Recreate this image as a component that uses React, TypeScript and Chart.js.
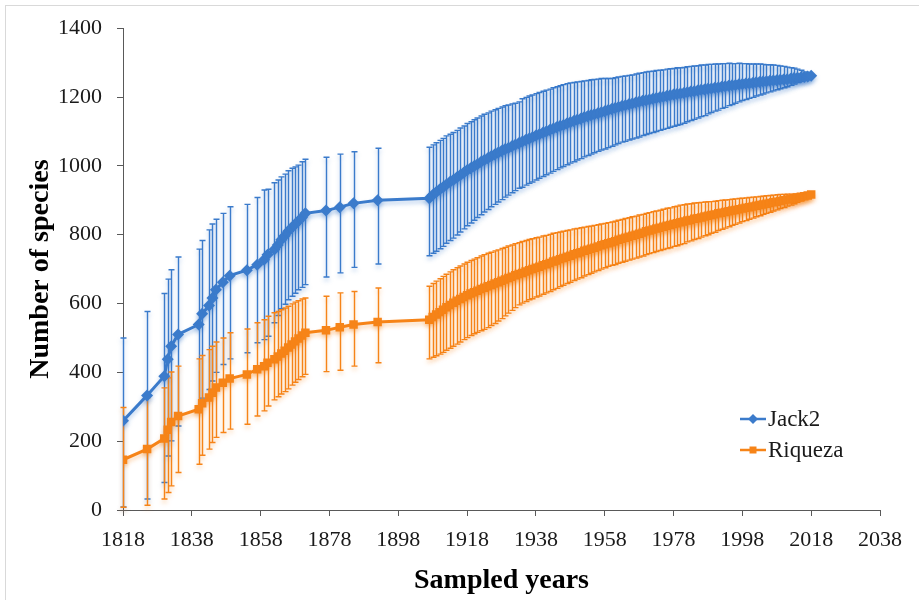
import React, { useEffect, useRef } from "react";
import { Chart, registerables } from "chart.js";

Chart.register(...registerables);

// ---------- DATA ----------
const years = [
  1818, 1825, 1830, 1831, 1832, 1834, 1840, 1841, 1843, 1844, 1845, 1847, 1849, 1854, 1857, 1859,
  1860, 1862, 1863, 1864, 1865, 1866, 1867, 1868, 1869, 1870, 1871, 1877, 1881, 1885, 1892,
  1907, 1908, 1909, 1910, 1911, 1912, 1913, 1914, 1915, 1916,
  1917, 1918, 1919, 1920, 1921, 1922, 1923, 1924, 1925, 1926,
  1927, 1928, 1929, 1930, 1931, 1932, 1933, 1934, 1935, 1936,
  1937, 1938, 1939, 1940, 1941, 1942, 1943, 1944, 1945, 1946,
  1947, 1948, 1949, 1950, 1951, 1952, 1953, 1954, 1955, 1956,
  1957, 1958, 1959, 1960, 1961, 1962, 1963, 1964, 1965, 1966,
  1967, 1968, 1969, 1970, 1971, 1972, 1973, 1974, 1975, 1976,
  1977, 1978, 1979, 1980, 1981, 1982, 1983, 1984, 1985, 1986,
  1987, 1988, 1989, 1990, 1991, 1992, 1993, 1994, 1995, 1996,
  1997, 1998, 1999, 2000, 2001, 2002, 2003, 2004, 2005, 2006,
  2007, 2008, 2009, 2010, 2011, 2012, 2013, 2014, 2015, 2016,
  2017, 2018,
];

const jack2 = [
  259, 333, 389, 438, 476, 510, 539, 570, 594, 616, 640, 662, 681, 697, 713, 727,
  742, 757, 770, 785, 797, 810, 820, 830, 840, 850, 862, 870, 880, 891, 900,
  906, 915, 923, 931, 938, 946, 953, 959, 966, 973,
  980, 987, 993, 999, 1005, 1011, 1017, 1022, 1028, 1033,
  1038, 1043, 1048, 1052, 1057, 1061, 1066, 1070, 1075, 1079,
  1083, 1088, 1092, 1096, 1100, 1104, 1108, 1112, 1116, 1119,
  1123, 1127, 1130, 1134, 1137, 1141, 1144, 1147, 1150, 1153,
  1156, 1159, 1162, 1165, 1168, 1171, 1174, 1176, 1179, 1181,
  1184, 1186, 1189, 1191, 1193, 1195, 1197, 1199, 1201, 1203,
  1205, 1207, 1209, 1210, 1212, 1214, 1216, 1217, 1219, 1221,
  1222, 1224, 1225, 1227, 1228, 1230, 1231, 1233, 1234, 1235,
  1237, 1238, 1239, 1240, 1241, 1243, 1244, 1245, 1246, 1247,
  1248, 1249, 1250, 1251, 1252, 1253, 1255, 1256, 1257, 1258,
  1260, 1262,
];

const jack2ErrPlus = [
  241, 244, 240, 233, 222, 225, 219, 213, 220, 215, 205, 200, 200, 191, 195, 203,
  190, 194, 189, 183, 179, 176, 173, 167, 162, 162, 157, 155, 154, 150, 151,
  148, 146, 144, 143, 142, 141, 139, 138, 137, 137,
  136, 136, 135, 135, 134, 134, 133, 132, 131, 130,
  129, 128, 127, 125, 123, 121, 120, 125, 124, 124,
  123, 122, 121, 121, 120, 119, 119, 118, 117, 117,
  116, 114, 112, 110, 108, 106, 104, 103, 101, 99,
  98, 95, 92, 89, 88, 87, 86, 85, 84, 83,
  83, 83, 82, 82, 81, 80, 80, 79, 78, 78,
  77, 76, 76, 75, 74, 74, 73, 73, 72, 72,
  71, 71, 70, 69, 68, 67, 66, 65, 63, 62,
  61, 59, 58, 56, 55, 53, 52, 50, 48, 47,
  45, 43, 40, 38, 35, 32, 29, 25, 21, 15,
  9, 0,
];

const jack2ErrMinus = [
  250, 301, 309, 281, 275, 266, 250, 245, 244, 241, 240, 239, 242, 240, 227, 232,
  237, 213, 205, 200, 199, 199, 199, 200, 200, 203, 207, 193, 191, 186, 185,
  167, 169, 171, 172, 172, 171, 170, 169, 167, 165,
  163, 161, 159, 157, 155, 153, 151, 149, 147, 145,
  143, 141, 139, 137, 135, 133, 131, 132, 131, 130,
  130, 129, 128, 127, 126, 125, 124, 123, 122, 121,
  120, 119, 118, 117, 116, 115, 114, 113, 112, 111,
  110, 110, 109, 108, 107, 106, 105, 105, 104, 103,
  103, 102, 101, 100, 99, 98, 97, 96, 95, 94,
  93, 92, 91, 90, 88, 86, 84, 82, 80, 78,
  76, 73, 70, 68, 66, 63, 61, 58, 56, 53,
  51, 48, 46, 44, 42, 40, 38, 36, 34, 32,
  30, 28, 26, 24, 22, 19, 17, 14, 11, 8,
  5, 0,
];

const riqueza = [
  146, 177, 208, 233, 256, 273, 293, 310, 327, 341, 356, 370, 382, 394, 409, 418,
  428, 438, 446, 455, 463, 472, 481, 490, 498, 507, 515, 522, 531, 539, 546,
  553, 561, 568, 575, 582, 589, 596, 602, 608, 613,
  619, 624, 629, 633, 637, 642, 646, 650, 654, 658,
  662, 666, 670, 674, 678, 682, 686, 689, 693, 697,
  700, 704, 707, 711, 714, 718, 722, 725, 729, 732,
  736, 739, 743, 746, 749, 753, 756, 759, 762, 766,
  769, 772, 775, 778, 781, 785, 788, 791, 794, 797,
  800, 803, 806, 810, 812, 815, 818, 820, 823, 826,
  828, 831, 833, 836, 838, 841, 843, 846, 848, 850,
  853, 855, 857, 859, 862, 864, 866, 868, 870, 872,
  874, 876, 878, 880, 882, 884, 886, 888, 890, 892,
  894, 896, 898, 900, 902, 904, 906, 908, 910, 912,
  914, 917,
];

const riquezaErrPlus = [
  152, 149, 147, 151, 145, 145, 146, 139, 139, 135, 132, 130, 133, 132, 135, 135,
  135, 135, 131, 127, 124, 120, 118, 114, 110, 106, 101, 99, 100, 96, 99,
  97, 97, 97, 97, 97, 96, 96, 96, 96, 96,
  96, 96, 96, 96, 96, 96, 96, 96, 95, 95,
  94, 94, 93, 93, 92, 92, 91, 91, 90, 89,
  88, 87, 86, 85, 84, 83, 82, 81, 79, 78,
  76, 75, 74, 72, 71, 69, 68, 66, 65, 63,
  62, 61, 60, 59, 58, 57, 56, 56, 55, 55,
  54, 54, 53, 52, 52, 52, 51, 51, 51, 51,
  50, 50, 50, 50, 49, 48, 47, 46, 45, 44,
  42, 41, 39, 38, 37, 36, 35, 34, 33, 32,
  31, 30, 29, 28, 27, 26, 25, 24, 23, 22,
  21, 20, 19, 17, 16, 14, 12, 10, 8, 6,
  3, 0,
];

const riquezaErrMinus = [
  138, 163, 176, 182, 186, 164, 160, 151, 150, 145, 145, 145, 147, 145, 136, 130,
  126, 118, 117, 118, 119, 120, 118, 119, 119, 120, 121, 120, 125, 121, 118,
  114, 117, 120, 122, 124, 125, 126, 126, 126, 125,
  124, 123, 122, 121, 121, 121, 121, 120, 118, 116,
  113, 110, 106, 102, 98, 94, 90, 88, 87, 86,
  86, 85, 85, 84, 83, 83, 82, 81, 80, 79,
  78, 77, 76, 75, 74, 73, 72, 71, 70, 70,
  69, 68, 67, 67, 68, 68, 68, 68, 68, 68,
  68, 68, 68, 68, 67, 67, 67, 66, 66, 66,
  66, 65, 65, 65, 64, 62, 61, 60, 59, 57,
  56, 55, 53, 52, 50, 48, 47, 45, 43, 42,
  40, 38, 37, 35, 34, 32, 31, 29, 28, 27,
  25, 24, 22, 21, 19, 18, 16, 14, 12, 9,
  5, 0,
];

const xTickValues = [1818, 1838, 1858, 1878, 1898, 1918, 1938, 1958, 1978, 1998, 2018, 2038];
const yTickValues = [0, 200, 400, 600, 800, 1000, 1200, 1400];

const BLUE = "#3B7BCB";
const ORANGE = "#F68418";
const FONT = "'Liberation Serif', 'Times New Roman', serif";

// ---------- PLUGINS ----------
const backgroundPlugin = {
  id: "bgFrame",
  beforeDraw(chart: any) {
    const ctx = chart.ctx;
    ctx.save();
    ctx.fillStyle = "#ffffff";
    ctx.fillRect(0, 0, chart.width, chart.height);
    ctx.strokeStyle = "#d9d9d9";
    ctx.lineWidth = 1;
    ctx.strokeRect(5.5, 5.5, chart.width + 10, chart.height + 10);
    ctx.restore();
  },
};

const errorBarPlugin = {
  id: "errorBars",
  beforeDatasetsDraw(chart: any) {
    const ctx = chart.ctx;
    const xs = chart.scales.x;
    const ys = chart.scales.y;
    chart.data.datasets.forEach((ds: any) => {
      ctx.save();
      ctx.strokeStyle = ds.borderColor;
      ctx.lineWidth = 1.4;
      ctx.shadowColor = ds.glowColor;
      ctx.shadowBlur = 4;
      ctx.shadowOffsetY = 3;
      ds.data.forEach((pt: any, i: number) => {
        const plus = ds.errPlus[i];
        const minus = ds.errMinus[i];
        if (!plus && !minus) return;
        const px = Math.round(xs.getPixelForValue(pt.x)) + 0.5;
        const top = ys.getPixelForValue(pt.y + plus);
        const bot = ys.getPixelForValue(Math.max(0, pt.y - minus));
        ctx.beginPath();
        ctx.moveTo(px, top);
        ctx.lineTo(px, bot);
        ctx.moveTo(px - 3, top);
        ctx.lineTo(px + 3, top);
        ctx.moveTo(px - 3, bot);
        ctx.lineTo(px + 3, bot);
        ctx.stroke();
      });
      ctx.restore();
    });
  },
  beforeDatasetDraw(chart: any, args: any) {
    const ds = chart.data.datasets[args.index];
    const ctx = chart.ctx;
    ctx.save();
    ctx.shadowColor = ds.glowColor;
    ctx.shadowBlur = 4;
    ctx.shadowOffsetY = 3;
  },
  afterDatasetDraw(chart: any) {
    chart.ctx.restore();
  },
};

const legendPlugin = {
  id: "customLegend",
  afterDraw(chart: any) {
    const ctx = chart.ctx;
    const items = chart.data.datasets;
    const x0 = 740;
    const y0 = 419;
    const gap = 31;
    ctx.save();
    items.forEach((ds: any, i: number) => {
      const y = y0 + i * gap;
      ctx.strokeStyle = ds.borderColor;
      ctx.lineWidth = 2.5;
      ctx.beginPath();
      ctx.moveTo(x0, y);
      ctx.lineTo(x0 + 26, y);
      ctx.stroke();
      ctx.fillStyle = ds.borderColor;
      const cx = x0 + 13;
      ctx.beginPath();
      if (ds.pointStyle === "rectRot") {
        ctx.moveTo(cx, y - 5);
        ctx.lineTo(cx + 5, y);
        ctx.lineTo(cx, y + 5);
        ctx.lineTo(cx - 5, y);
        ctx.closePath();
      } else {
        ctx.rect(cx - 3.5, y - 3.5, 7, 7);
      }
      ctx.fill();
      ctx.fillStyle = "#1a1a1a";
      ctx.font = `23px ${FONT}`;
      ctx.textBaseline = "middle";
      ctx.textAlign = "left";
      ctx.fillText(ds.label, x0 + 28, y + 1);
    });
    ctx.restore();
  },
};

export default function App() {
  const canvasRef = useRef<HTMLCanvasElement | null>(null);

  useEffect(() => {
    document.body.style.margin = "0";
    const canvas = canvasRef.current;
    if (!canvas) return;

    const jackData = years.map((x, i) => ({ x, y: jack2[i] }));
    const riqData = years.map((x, i) => ({ x, y: riqueza[i] }));

    const chart = new Chart(canvas, {
      type: "scatter",
      data: {
        datasets: [
          {
            label: "Jack2",
            data: jackData,
            showLine: true,
            borderColor: BLUE,
            backgroundColor: BLUE,
            borderWidth: 3,
            pointStyle: "rectRot",
            pointRadius: 6,
            pointBorderWidth: 0,
            errPlus: jack2ErrPlus,
            errMinus: jack2ErrMinus,
            glowColor: "rgba(59,123,203,0.35)",
          } as any,
          {
            label: "Riqueza",
            data: riqData,
            showLine: true,
            borderColor: ORANGE,
            backgroundColor: ORANGE,
            borderWidth: 3,
            pointStyle: "rect",
            pointRadius: 6,
            pointBorderWidth: 0,
            errPlus: riquezaErrPlus,
            errMinus: riquezaErrMinus,
            glowColor: "rgba(246,132,24,0.35)",
          } as any,
        ],
      },
      options: {
        responsive: false,
        animation: false,
        events: [],
        layout: { padding: { left: 0, top: 27, right: 39, bottom: 0 } },
        plugins: {
          legend: { display: false },
          tooltip: { enabled: false },
        },
        scales: {
          x: {
            type: "linear",
            min: 1818,
            max: 2038,
            afterBuildTicks: (scale: any) => {
              scale.ticks = xTickValues.map((v) => ({ value: v }));
            },
            afterFit: (scale: any) => {
              scale.height = 90;
            },
            grid: {
              display: true,
              drawOnChartArea: false,
              drawTicks: true,
              tickLength: 6,
              color: "#595959",
            },
            border: { display: true, color: "#595959", width: 1 },
            ticks: {
              color: "#1a1a1a",
              font: { family: FONT, size: 22 },
              padding: 11,
              maxRotation: 0,
              autoSkip: false,
              callback: (v: any) => String(v),
            },
            title: {
              display: true,
              text: "Sampled years",
              color: "#000",
              font: { family: FONT, size: 28, weight: "bold" },
              padding: { top: 0, bottom: 2 },
            },
          },
          y: {
            type: "linear",
            min: 0,
            max: 1400,
            afterBuildTicks: (scale: any) => {
              scale.ticks = yTickValues.map((v) => ({ value: v }));
            },
            afterFit: (scale: any) => {
              scale.width = 123;
            },
            grid: {
              display: true,
              drawOnChartArea: false,
              drawTicks: true,
              tickLength: 6,
              color: "#595959",
            },
            border: { display: true, color: "#595959", width: 1 },
            ticks: {
              color: "#1a1a1a",
              font: { family: FONT, size: 22 },
              padding: 15,
              autoSkip: false,
              callback: (v: any) => String(v),
            },
            title: {
              display: true,
              text: "Number of species",
              color: "#000",
              font: { family: FONT, size: 28, weight: "bold" },
              padding: { top: 24, bottom: 0 },
            },
          },
        },
      } as any,
      plugins: [backgroundPlugin, errorBarPlugin, legendPlugin],
    });

    return () => chart.destroy();
  }, []);

  return (
    <canvas
      ref={canvasRef}
      width={919}
      height={600}
      style={{ display: "block", width: 919, height: 600 }}
    />
  );
}
